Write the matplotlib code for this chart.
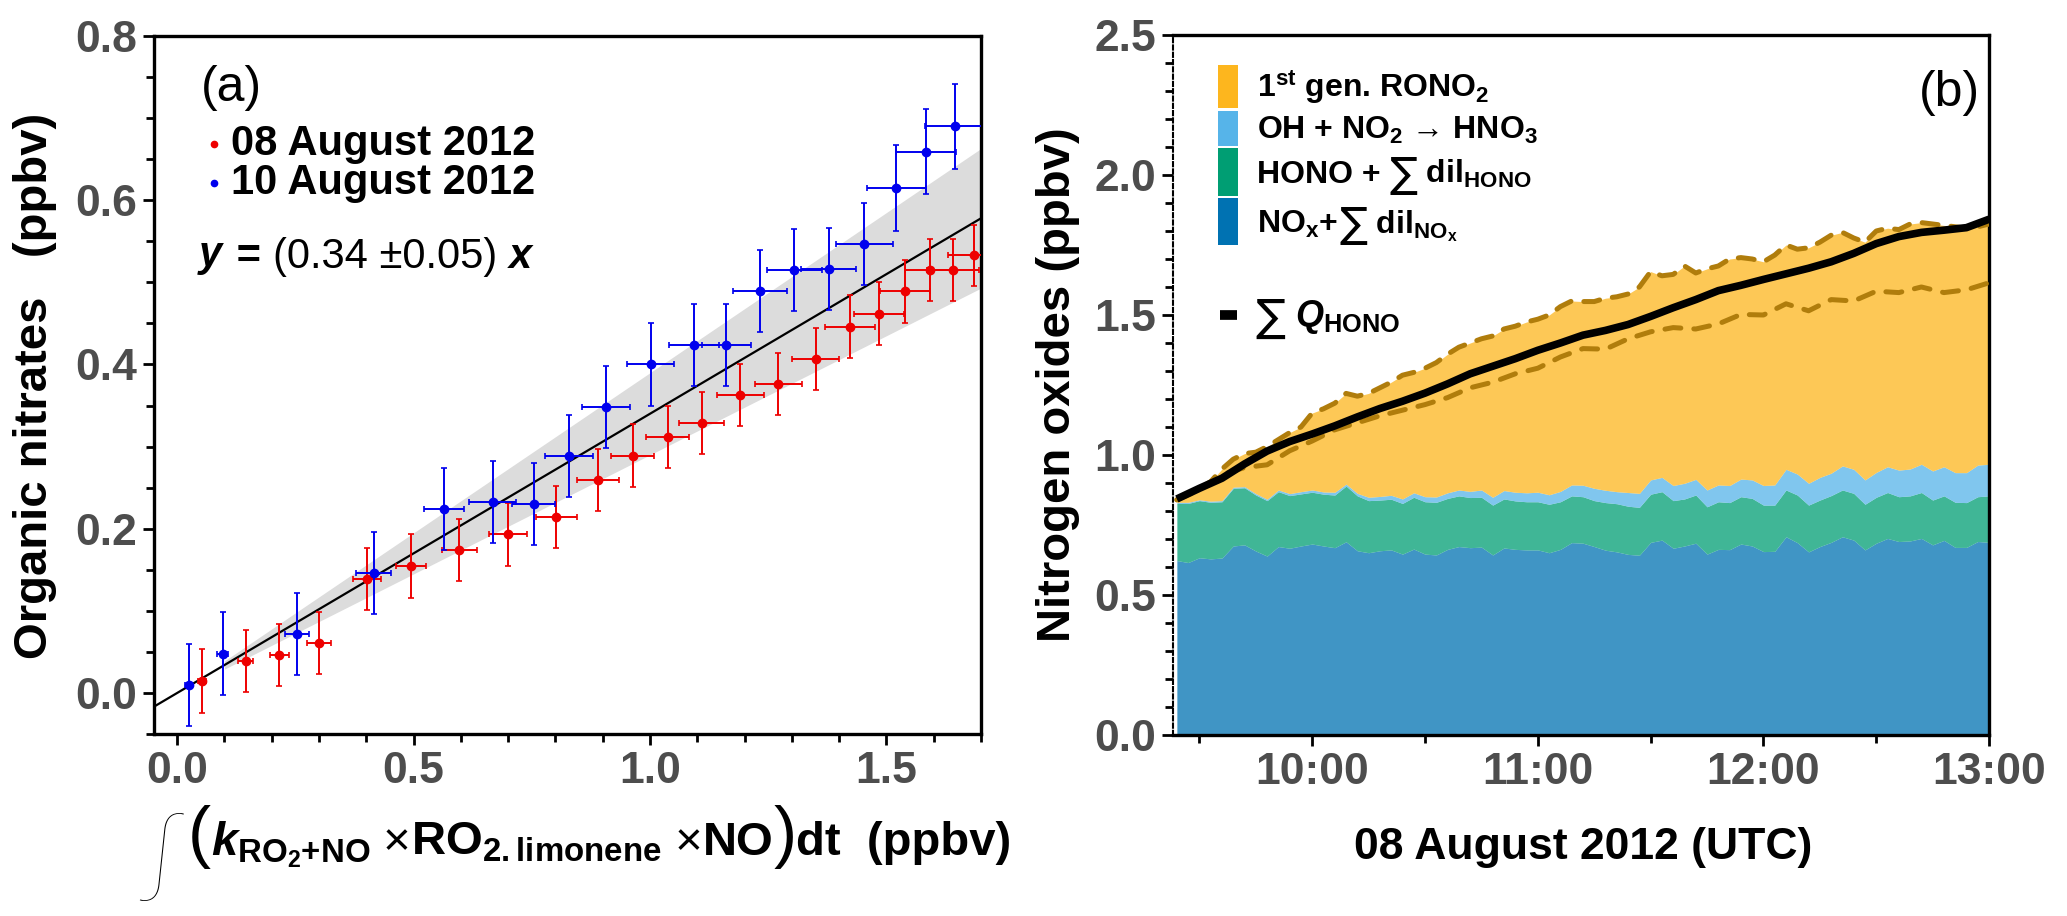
import matplotlib
matplotlib.use('Agg')
import matplotlib.pyplot as plt
import numpy as np
from matplotlib.ticker import MultipleLocator, FuncFormatter
from matplotlib.patches import Rectangle

plt.rcParams['font.family'] = ['Liberation Sans', 'DejaVu Sans']
plt.rcParams['font.weight'] = 'bold'
plt.rcParams['mathtext.fontset'] = 'custom'
plt.rcParams['mathtext.rm'] = 'Liberation Sans'
plt.rcParams['mathtext.it'] = 'Liberation Sans:italic:bold'
plt.rcParams['mathtext.bf'] = 'Liberation Sans:bold'
plt.rcParams['mathtext.fallback'] = 'stixsans'

# ---- panel (a): organic nitrates vs integrated RO2+NO ----
x_aug08 = [0.052, 0.145, 0.216, 0.300, 0.401, 0.494, 0.597, 0.699, 0.802, 0.890, 0.963,
           1.037, 1.109, 1.191, 1.271, 1.350, 1.423, 1.485, 1.540, 1.593, 1.640, 1.685]
y_aug08 = [0.014, 0.039, 0.046, 0.061, 0.139, 0.155, 0.174, 0.193, 0.214, 0.259, 0.289,
           0.312, 0.329, 0.363, 0.376, 0.407, 0.446, 0.462, 0.489, 0.515, 0.515, 0.533]
xerr_aug08 = [0.008, 0.016, 0.020, 0.025, 0.029, 0.032, 0.037, 0.040, 0.044, 0.044, 0.045,
              0.046, 0.048, 0.049, 0.050, 0.050, 0.052, 0.053, 0.053, 0.054, 0.055, 0.055]
yerr_aug08 = [0.039, 0.038, 0.038, 0.038, 0.038, 0.039, 0.038, 0.038, 0.038, 0.038, 0.038,
              0.038, 0.038, 0.038, 0.038, 0.038, 0.038, 0.038, 0.038, 0.038, 0.038, 0.037]

x_aug10 = [0.024, 0.096, 0.253, 0.416, 0.564, 0.667, 0.754, 0.829, 0.907, 1.001, 1.093,
           1.161, 1.232, 1.305, 1.378, 1.453, 1.521, 1.584, 1.646]
y_aug10 = [0.010, 0.048, 0.072, 0.146, 0.224, 0.233, 0.230, 0.289, 0.348, 0.400, 0.424,
           0.424, 0.489, 0.515, 0.516, 0.547, 0.615, 0.659, 0.690]
xerr_aug10 = [0.008, 0.012, 0.025, 0.037, 0.043, 0.049, 0.046, 0.051, 0.051, 0.050, 0.052,
              0.052, 0.057, 0.058, 0.058, 0.060, 0.062, 0.063, 0.065]
yerr_aug10 = [0.050, 0.050, 0.050, 0.050, 0.050, 0.050, 0.050, 0.050, 0.050, 0.050, 0.050,
              0.050, 0.050, 0.050, 0.050, 0.050, 0.052, 0.052, 0.052]

slope = 0.34
slope_err = 0.05

# ---- panel (b): stacked nitrogen oxides, 08 Aug 2012, every 3 min from 09:24 ----
minutes = np.arange(564, 781, 3)
hours = minutes / 60.0

top_nox = [0.623, 0.616, 0.633, 0.629, 0.632, 0.675, 0.679, 0.657, 0.639, 0.673, 0.667, 0.675,
           0.682, 0.675, 0.669, 0.690, 0.658, 0.651, 0.658, 0.661, 0.646, 0.664, 0.646, 0.643,
           0.663, 0.673, 0.669, 0.671, 0.643, 0.668, 0.663, 0.661, 0.661, 0.651, 0.663, 0.687,
           0.685, 0.673, 0.660, 0.654, 0.645, 0.642, 0.688, 0.696, 0.667, 0.675, 0.685, 0.646,
           0.663, 0.662, 0.682, 0.675, 0.655, 0.656, 0.708, 0.687, 0.654, 0.673, 0.688, 0.708,
           0.696, 0.661, 0.685, 0.702, 0.691, 0.693, 0.702, 0.679, 0.695, 0.670, 0.670, 0.691,
           0.688]
top_hono = [0.827, 0.827, 0.837, 0.831, 0.833, 0.881, 0.883, 0.857, 0.837, 0.869, 0.855, 0.861,
            0.867, 0.860, 0.857, 0.889, 0.854, 0.837, 0.839, 0.842, 0.827, 0.849, 0.833, 0.831,
            0.845, 0.854, 0.848, 0.849, 0.821, 0.843, 0.836, 0.833, 0.833, 0.824, 0.833, 0.854,
            0.851, 0.837, 0.830, 0.826, 0.817, 0.813, 0.860, 0.869, 0.837, 0.843, 0.857, 0.815,
            0.833, 0.830, 0.851, 0.845, 0.821, 0.821, 0.875, 0.857, 0.821, 0.839, 0.855, 0.875,
            0.863, 0.824, 0.849, 0.866, 0.851, 0.854, 0.866, 0.839, 0.854, 0.831, 0.830, 0.851,
            0.854]
top_hno3 = [0.831, 0.831, 0.840, 0.835, 0.837, 0.885, 0.887, 0.862, 0.842, 0.875, 0.862, 0.869,
            0.875, 0.868, 0.867, 0.896, 0.863, 0.849, 0.852, 0.856, 0.843, 0.865, 0.851, 0.850,
            0.865, 0.875, 0.870, 0.875, 0.849, 0.873, 0.867, 0.865, 0.867, 0.858, 0.870, 0.893,
            0.892, 0.881, 0.874, 0.869, 0.866, 0.863, 0.911, 0.920, 0.891, 0.899, 0.913, 0.875,
            0.893, 0.891, 0.914, 0.911, 0.891, 0.893, 0.949, 0.932, 0.899, 0.920, 0.935, 0.961,
            0.949, 0.911, 0.938, 0.958, 0.946, 0.950, 0.967, 0.943, 0.958, 0.937, 0.937, 0.964,
            0.967]
top_rono2 = [0.840, 0.860, 0.880, 0.905, 0.950, 0.985, 1.005, 1.010, 1.030, 1.055, 1.080, 1.100,
             1.150, 1.165, 1.185, 1.220, 1.210, 1.220, 1.240, 1.260, 1.285, 1.295, 1.310, 1.330,
             1.360, 1.385, 1.400, 1.415, 1.425, 1.450, 1.460, 1.475, 1.485, 1.500, 1.530, 1.550,
             1.548, 1.548, 1.560, 1.565, 1.575, 1.600, 1.655, 1.640, 1.645, 1.675, 1.650, 1.665,
             1.675, 1.700, 1.705, 1.700, 1.690, 1.714, 1.750, 1.735, 1.740, 1.760, 1.785, 1.795,
             1.775, 1.760, 1.800, 1.810, 1.805, 1.825, 1.830, 1.825, 1.820, 1.815, 1.810, 1.815,
             1.825]

# 6-min grid for the lines
minutes6 = np.arange(564, 781, 6)
hours6 = minutes6 / 60.0
sum_q_hono = [0.843, 0.881, 0.917, 0.968, 1.014, 1.048, 1.075, 1.104, 1.136, 1.166, 1.192, 1.221,
              1.254, 1.290, 1.317, 1.344, 1.374, 1.400, 1.428, 1.445, 1.466, 1.495, 1.526, 1.555,
              1.587, 1.606, 1.627, 1.647, 1.667, 1.690, 1.720, 1.755, 1.780, 1.795, 1.803, 1.812,
              1.842]
lower_dashed = [0.840, 0.875, 0.930, 0.955, 0.965, 1.015, 1.050, 1.090, 1.115, 1.140, 1.160, 1.180,
                1.205, 1.240, 1.260, 1.290, 1.310, 1.350, 1.380, 1.378, 1.415, 1.440, 1.455, 1.450,
                1.468, 1.502, 1.500, 1.540, 1.515, 1.555, 1.550, 1.585, 1.580, 1.600, 1.580, 1.590,
                1.615]

C_NOX = '#0072B2'
C_HONO = '#009E73'
C_HNO3 = '#56B4E9'
C_RONO2 = '#FDB61E'
TICK_GRAY = '#4d4d4d'
W, H = 2067, 916

fig = plt.figure(figsize=(20.67, 9.16), dpi=100)
renderer = fig.canvas.get_renderer()
ax1 = fig.add_axes([0.0743, 0.1987, 0.4003, 0.7620])
ax2 = fig.add_axes([0.5675, 0.1976, 0.3948, 0.7642])


def chain(x_px, y_px, pieces, center=False):
    """Lay text pieces left to right on one baseline (pixel coords from top-left)."""
    texts = []
    for s, size, dy, kw in pieces:
        t = fig.text(0, 1 - (y_px + dy) / H, s, fontsize=size, ha='left', va='baseline', **kw)
        texts.append(t)
    widths = [t.get_window_extent(renderer).width for t in texts]
    x = x_px - sum(widths) / 2 if center else x_px
    for t, w in zip(texts, widths):
        t.set_x(x / W)
        x += w
    return texts


# ---------- panel (a) ----------
bx = np.array([0.1, 1.70])
ax1.fill_between(bx, (slope - slope_err) * bx, (slope + slope_err) * bx,
                 color='#dcdcdc', lw=0, zorder=1)
lx = np.array([-0.05, 1.70])
ax1.plot(lx, slope * lx, color='black', lw=1.6, zorder=2)

ax1.errorbar(x_aug08, y_aug08, xerr=xerr_aug08, yerr=yerr_aug08, fmt='o', ms=6,
             color='#ee0000', ecolor='#ee0000', elinewidth=1.4, capsize=2, capthick=1.2,
             zorder=3)
ax1.errorbar(x_aug10, y_aug10, xerr=xerr_aug10, yerr=yerr_aug10, fmt='o', ms=6,
             color='#0000ee', ecolor='#0000ee', elinewidth=1.4, capsize=2, capthick=1.2,
             zorder=4)

ax1.set_xlim(-0.05, 1.70)
ax1.set_ylim(-0.05, 0.80)
ax1.xaxis.set_major_locator(MultipleLocator(0.5))
ax1.xaxis.set_minor_locator(MultipleLocator(0.1))
ax1.yaxis.set_major_locator(MultipleLocator(0.2))
ax1.yaxis.set_minor_locator(MultipleLocator(0.05))
ax1.xaxis.set_major_formatter(FuncFormatter(lambda v, p: f"{v:.1f}"))
ax1.yaxis.set_major_formatter(FuncFormatter(lambda v, p: f"{v:.1f}"))

ax1.text(0.094, 0.925, '(a)', transform=ax1.transAxes, fontsize=36, fontweight='normal',
         ha='center', va='center')
ax1.plot([0.073], [0.845], 'o', ms=4.5, color='#ee0000', transform=ax1.transAxes, clip_on=False)
ax1.plot([0.073], [0.789], 'o', ms=4.5, color='#0000ee', transform=ax1.transAxes, clip_on=False)
ax1.text(0.094, 0.845, '08 August 2012', transform=ax1.transAxes, fontsize=30,
         ha='left', va='center')
ax1.text(0.094, 0.789, '10 August 2012', transform=ax1.transAxes, fontsize=30,
         ha='left', va='center')

t1 = ax1.text(0.052, 0.683, r'$y$', transform=ax1.transAxes, fontsize=30,
              ha='left', va='center')
t2 = ax1.annotate(' = ', xy=(1, 0), xycoords=t1, fontsize=30, va='bottom', ha='left')
t3 = ax1.annotate('(0.34 \u00b10.05)', xy=(1, 0), xycoords=t2, fontsize=30,
                  fontweight='normal', va='bottom', ha='left')
ax1.annotate(r' $x$', xy=(1, 0), xycoords=t3, fontsize=30, va='bottom', ha='left')

fig.text(35 / W, 1 - 386 / H, 'Organic nitrates   (ppbv)', rotation=90,
         fontsize=34, ha='center', va='center')

NORM = {'fontweight': 'normal'}
BOLD = {'fontweight': 'bold'}
chain(575, 855, [
    ('\u222b', 64, 30, {'fontweight': 'light', 'family': ['Lato', 'DejaVu Sans']}),
    (' ', 8, 0, NORM),
    ('(', 50, 0, NORM),
    (r'$k_{\mathrm{RO_2{+}NO}}$', 34, 0, BOLD),
    (' \u00d7', 34, 0, NORM),
    (r'RO$_{\mathrm{2.limonene}}$', 34, 0, BOLD),
    (' \u00d7', 34, 0, NORM),
    ('NO', 34, 0, BOLD),
    (')', 50, 0, NORM),
    ('dt  (ppbv)', 34, 0, BOLD),
], center=True)

# ---------- panel (b) ----------
ax2.fill_between(hours, 0, top_nox, color=C_NOX, alpha=0.75, lw=0)
ax2.fill_between(hours, top_nox, top_hono, color=C_HONO, alpha=0.75, lw=0)
ax2.fill_between(hours, top_hono, top_hno3, color=C_HNO3, alpha=0.75, lw=0)
ax2.fill_between(hours, top_hno3, top_rono2, color=C_RONO2, alpha=0.75, lw=0)

ax2.plot(hours, top_rono2, color='#b07d0c', lw=3.6, ls=(0, (3.2, 2.6)),
         dash_capstyle='round', zorder=3)
ax2.plot(hours6, lower_dashed, color='#b07d0c', lw=3.6, ls=(0, (3.2, 2.6)),
         dash_capstyle='round', zorder=3)
ax2.plot(hours6, sum_q_hono, color='black', lw=5.5, solid_capstyle='butt', zorder=4)

ax2.set_xlim(9.383, 13.0)
ax2.set_ylim(0, 2.5)
ax2.xaxis.set_major_locator(MultipleLocator(1))
ax2.xaxis.set_minor_locator(MultipleLocator(0.5))
ax2.yaxis.set_major_locator(MultipleLocator(0.5))
ax2.yaxis.set_minor_locator(MultipleLocator(0.1))
ax2.xaxis.set_major_formatter(FuncFormatter(lambda v, p: f"{int(round(v))}:00"))
ax2.yaxis.set_major_formatter(FuncFormatter(lambda v, p: f"{v:.1f}"))
ax2.spines['left'].set_linestyle((0, (2, 1.5)))
ax2.spines['left'].set_linewidth(1.5)

leg_patches = [
    (0.8957, 0.9571, C_RONO2),
    (0.8414, 0.8914, C_HNO3),
    (0.7700, 0.8386, C_HONO),
    (0.7000, 0.7671, C_NOX),
]
for y0, y1, col in leg_patches:
    ax2.add_patch(Rectangle((0.0551, y0), 0.0246, y1 - y0, transform=ax2.transAxes,
                            facecolor=col, edgecolor='none', zorder=5))

SUM = {'fontweight': 'normal', 'family': ['DejaVu Sans']}
chain(1257, 98, [(r'1$^{\mathbf{st}}$ gen. RONO$_2$', 23, 0, BOLD)])
chain(1257, 139, [('OH + NO$_2$ \u2192 HNO$_3$', 23, 0, BOLD)])
chain(1257, 183, [('HONO + ', 23, 0, BOLD), ('\u2211', 30, 4, SUM),
                  (r' dil$_{\mathbf{HONO}}$', 23, 0, BOLD)])
chain(1257, 233, [('NO$_{\\mathbf{x}}$+ ', 23, 0, BOLD), ('\u2211', 30, 4, SUM),
                  (r' dil$_{\mathbf{NO_x}}$', 23, 0, BOLD)])

ax2.plot([0.0576, 0.0784], [0.600, 0.600], color='black', lw=7, transform=ax2.transAxes,
         solid_capstyle='butt', zorder=5)
chain(1255, 326, [('\u2211', 32, 5, SUM), (r' $Q_{\mathbf{HONO}}$', 26, 0, BOLD)])

ax2.text(0.952, 0.917, '(b)', transform=ax2.transAxes, fontsize=36, fontweight='normal',
         ha='center', va='center')

fig.text(1058 / W, 1 - 385 / H, 'Nitrogen oxides (ppbv)', rotation=90,
         fontsize=34, ha='center', va='center')
fig.text(1583 / W, 1 - 847 / H, '08 August 2012 (UTC)', fontsize=32,
         ha='center', va='center')

for ax in (ax1, ax2):
    for side in ('top', 'right', 'bottom'):
        ax.spines[side].set_linewidth(2.4)
    ax.tick_params(which='both', direction='out', width=2, labelsize=32,
                   labelcolor=TICK_GRAY, top=False, right=False)
    ax.tick_params(which='major', length=8, pad=4)
    ax.tick_params(which='minor', length=6)
ax1.spines['left'].set_linewidth(2.4)

fig.savefig('out.png', dpi=100)
